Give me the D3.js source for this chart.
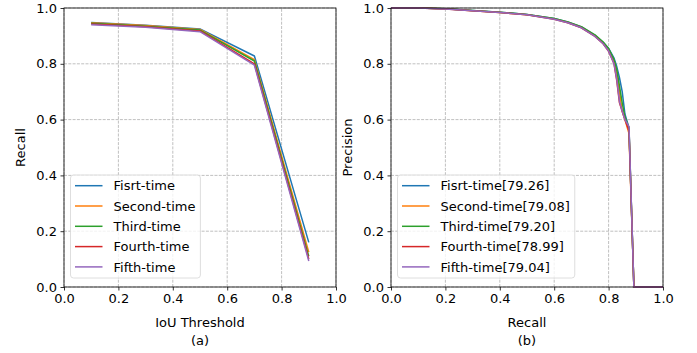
<!DOCTYPE html>
<html>
<head>
<meta charset="utf-8">
<script src="https://cdn.jsdelivr.net/npm/d3@7"></script>
<style>
  body { margin: 0; background: #fff; }
  svg text { font-family: "DejaVu Sans", sans-serif; fill: #000; }
</style>
</head>
<body>
<div id="chart"></div>
<script>
// --- data ---
const seriesNames = ['Fisrt-time', 'Second-time', 'Third-time', 'Fourth-time', 'Fifth-time'];
const apScores = ['79.26', '79.08', '79.20', '78.99', '79.04'];
const colors = ['#1f77b4', '#ff7f0e', '#2ca02c', '#d62728', '#9467bd'];
const ticks = [0.0, 0.2, 0.4, 0.6, 0.8, 1.0];

// (a) recall vs IoU threshold
const iouThresholds = [0.1, 0.3, 0.5, 0.7, 0.9];
const recallFirst  = [0.948, 0.938, 0.925, 0.828, 0.160];
const recallSecond = [0.947, 0.937, 0.923, 0.815, 0.125];
const recallThird  = [0.945, 0.935, 0.921, 0.810, 0.110];
const recallFourth = [0.943, 0.933, 0.918, 0.800, 0.100];
const recallFifth  = [0.940, 0.931, 0.915, 0.795, 0.093];

// (b) precision-recall curves
const prRecall = [0, 0.1, 0.2, 0.3, 0.4, 0.5, 0.6, 0.65, 0.7, 0.75, 0.78, 0.8, 0.82, 0.83, 0.84, 0.85, 0.86, 0.875, 0.893, 1.0];
const precFirst  = [1, 1, 0.997, 0.991, 0.985, 0.977, 0.962, 0.950, 0.932, 0.902, 0.877, 0.855, 0.820, 0.790, 0.750, 0.700, 0.620, 0.570, 0, 0];
const precSecond = [1, 1, 0.997, 0.990, 0.984, 0.976, 0.961, 0.948, 0.930, 0.900, 0.874, 0.850, 0.810, 0.770, 0.700, 0.630, 0.600, 0.550, 0, 0];
const precThird  = [1, 1, 0.997, 0.991, 0.985, 0.977, 0.962, 0.950, 0.933, 0.904, 0.878, 0.855, 0.815, 0.780, 0.720, 0.660, 0.610, 0.570, 0, 0];
const precFourth = [1, 1, 0.996, 0.990, 0.984, 0.976, 0.960, 0.947, 0.929, 0.898, 0.872, 0.845, 0.800, 0.740, 0.660, 0.630, 0.600, 0.560, 0, 0];
const precFifth  = [1, 1, 0.996, 0.990, 0.984, 0.976, 0.960, 0.947, 0.929, 0.898, 0.872, 0.846, 0.800, 0.745, 0.665, 0.630, 0.600, 0.575, 0, 0];

const recallSeries = [recallFirst, recallSecond, recallThird, recallFourth, recallFifth];
const precSeries = [precFirst, precSecond, precThird, precFourth, precFifth];

const W = 697, H = 353;
const FS = '13px';
const svg = d3.select('#chart').append('svg')
  .attr('width', W)
  .attr('height', H);

function panel(opts) {
  const x = d3.scaleLinear().domain([0, 1]).range([opts.left, opts.left + 272]);
  const y = d3.scaleLinear().domain([0, 1]).range([287, 8]);
  const g = svg.append('g');

  // grid
  g.append('g').selectAll('line.gx')
    .data(ticks).enter().append('line')
    .attr('x1', d => x(d)).attr('x2', d => x(d))
    .attr('y1', y(0)).attr('y2', y(1))
    .attr('stroke', '#b0b0b0').attr('stroke-width', 0.8)
    .attr('stroke-dasharray', '3,1.3');
  g.append('g').selectAll('line.gy')
    .data(ticks).enter().append('line')
    .attr('y1', d => y(d)).attr('y2', d => y(d))
    .attr('x1', x(0)).attr('x2', x(1))
    .attr('stroke', '#b0b0b0').attr('stroke-width', 0.8)
    .attr('stroke-dasharray', '3,1.3');

  // lines
  const line = d3.line().x(d => x(d[0])).y(d => y(d[1]));
  opts.ys.forEach((ys, i) => {
    const pts = opts.xs.map((v, j) => [v, ys[j]]);
    g.append('path')
      .attr('d', line(pts))
      .attr('fill', 'none')
      .attr('stroke', colors[i])
      .attr('stroke-width', 1.5)
      .attr('stroke-linejoin', 'round');
  });

  // axes
  const fmt = d3.format('.1f');
  const xa = g.append('g')
    .attr('transform', 'translate(0,' + y(0) + ')')
    .call(d3.axisBottom(x).tickValues(ticks).tickFormat(fmt).tickSize(3.5).tickPadding(3.5));
  const ya = g.append('g')
    .attr('transform', 'translate(' + x(0) + ',0)')
    .call(d3.axisLeft(y).tickValues(ticks).tickFormat(fmt).tickSize(3.5).tickPadding(3.5));
  [xa, ya].forEach(a => {
    a.select('.domain').remove();
    a.selectAll('text').style('font-size', FS).style('font-family', '"DejaVu Sans", sans-serif');
    a.selectAll('line').attr('stroke', '#000').attr('stroke-width', 0.8);
  });

  g.append('rect')
    .attr('x', x(0)).attr('y', y(1))
    .attr('width', x(1) - x(0)).attr('height', y(0) - y(1))
    .attr('fill', 'none').attr('stroke', '#000').attr('stroke-width', 0.8);

  // labels
  g.append('text')
    .attr('x', (x(0) + x(1)) / 2).attr('y', 327)
    .attr('text-anchor', 'middle').style('font-size', FS)
    .text(opts.xlabel);
  g.append('text')
    .attr('x', (x(0) + x(1)) / 2).attr('y', 345)
    .attr('text-anchor', 'middle').style('font-size', FS)
    .text(opts.caption);
  g.append('text')
    .attr('transform', 'translate(' + (opts.left - 39) + ',' + (y(0.5)) + ') rotate(-90)')
    .attr('text-anchor', 'middle').style('font-size', FS)
    .text(opts.ylabel);

  // legend
  const lg = g.append('g').attr('transform', 'translate(' + (opts.left + 6.5) + ',175)');
  const box = lg.append('rect')
    .attr('rx', 3).attr('ry', 3)
    .attr('fill', '#fff').attr('fill-opacity', 0.8)
    .attr('stroke', '#d6d6d6').attr('stroke-width', 0.8);
  let maxW = 0;
  opts.labels.forEach((lab, i) => {
    const cy = 10.7 + i * 20.3;
    lg.append('line')
      .attr('x1', 4.5).attr('x2', 32)
      .attr('y1', cy).attr('y2', cy)
      .attr('stroke', colors[i]).attr('stroke-width', 1.5);
    const t = lg.append('text')
      .attr('x', 43).attr('y', cy + 4.7)
      .style('font-size', FS)
      .text(lab);
    maxW = Math.max(maxW, t.node().getComputedTextLength());
  });
  box.attr('x', 0).attr('y', 0)
    .attr('width', 43 + maxW + 5)
    .attr('height', 103);
}

panel({
  left: 64,
  xs: iouThresholds,
  ys: recallSeries,
  xlabel: 'IoU Threshold',
  ylabel: 'Recall',
  caption: '(a)',
  labels: seriesNames
});

panel({
  left: 391,
  xs: prRecall,
  ys: precSeries,
  xlabel: 'Recall',
  ylabel: 'Precision',
  caption: '(b)',
  labels: seriesNames.map((n, i) => n + '[' + apScores[i] + ']')
});
</script>
</body>
</html>
